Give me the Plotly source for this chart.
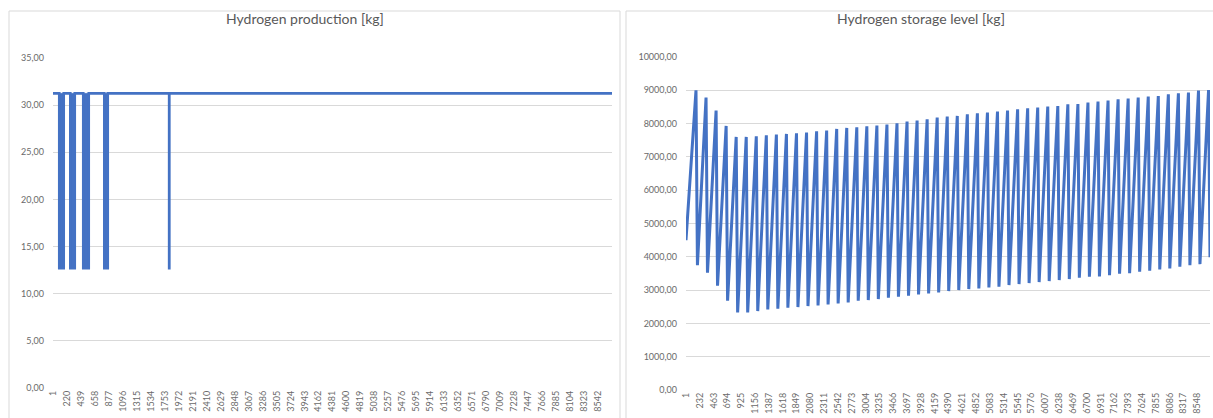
import plotly.graph_objects as go

W, H = 1213, 418

# ---------------- data ----------------
# Hydrogen production [kg] (hourly, 8760 h): constant full level with reduced-output periods
prod_full = 31.25
prod_low = 12.7
low_start = [99, 272, 475, 805, 1821]
low_end = [169, 342, 561, 859, 1824]
n_hours = 8760

prod_tick_vals = [1, 220, 439, 658, 877, 1096, 1315, 1534, 1753, 1972, 2191, 2410, 2629, 2848,
                  3067, 3286, 3505, 3724, 3943, 4162, 4381, 4600, 4819, 5038, 5257, 5476, 5695,
                  5914, 6133, 6352, 6571, 6790, 7009, 7228, 7447, 7666, 7885, 8104, 8323, 8542]
prod_y_ticks = [0, 5, 10, 15, 20, 25, 30, 35]
prod_y_text = ["0,00", "5,00", "10,00", "15,00", "20,00", "25,00", "30,00", "35,00"]

# Hydrogen storage level [kg]: weekly saw-tooth (start, peaks, troughs, end)
store_start_hour = 1
store_start_val = 4500
peak_hours = [168, 336, 504, 672, 840, 1008, 1176, 1344, 1512, 1680, 1848, 2016, 2184, 2352,
              2520, 2688, 2856, 3024, 3192, 3360, 3528, 3696, 3864, 4032, 4200, 4368, 4536,
              4704, 4872, 5040, 5208, 5376, 5544, 5712, 5880, 6048, 6216, 6384, 6552, 6720,
              6888, 7056, 7224, 7392, 7560, 7728, 7896, 8064, 8232, 8400, 8568, 8736]
peak_vals = [9000, 8780, 8390, 7930, 7600, 7600, 7620, 7650, 7670, 7690,
             7710, 7730, 7770, 7790, 7840, 7870, 7890, 7920, 7940, 7970,
             8010, 8060, 8090, 8130, 8180, 8210, 8230, 8280, 8310, 8330,
             8360, 8390, 8430, 8460, 8480, 8510, 8530, 8580, 8590, 8630,
             8660, 8690, 8730, 8750, 8780, 8810, 8830, 8880, 8910, 8930,
             8990, 9010]
trough_hours = [192, 360, 528, 696, 864, 1032, 1200, 1368, 1536, 1704, 1872, 2040, 2208, 2376,
                2544, 2712, 2880, 3048, 3216, 3384, 3552, 3720, 3888, 4056, 4224, 4392, 4560,
                4728, 4896, 5064, 5232, 5400, 5568, 5736, 5904, 6072, 6240, 6408, 6576, 6744,
                6912, 7080, 7248, 7416, 7584, 7752, 7920, 8088, 8256, 8424, 8592, 8760]
trough_vals = [3750, 3520, 3130, 2680, 2330, 2330, 2370, 2420, 2440, 2470,
               2490, 2520, 2540, 2570, 2600, 2630, 2680, 2700, 2730, 2770,
               2800, 2830, 2870, 2900, 2930, 2970, 3000, 3030, 3050, 3080,
               3100, 3150, 3180, 3210, 3240, 3270, 3300, 3330, 3370, 3400,
               3410, 3450, 3490, 3510, 3550, 3580, 3620, 3650, 3700, 3750,
               3780, 3990]

store_tick_vals = [1, 232, 463, 694, 925, 1156, 1387, 1618, 1849, 2080, 2311, 2542, 2773, 3004,
                   3235, 3466, 3697, 3928, 4159, 4390, 4621, 4852, 5083, 5314, 5545, 5776, 6007,
                   6238, 6469, 6700, 6931, 7162, 7393, 7624, 7855, 8086, 8317, 8548]
store_y_ticks = [0, 1000, 2000, 3000, 4000, 5000, 6000, 7000, 8000, 9000, 10000]
store_y_text = ["0,00", "1000,00", "2000,00", "3000,00", "4000,00", "5000,00", "6000,00",
                "7000,00", "8000,00", "9000,00", "10000,00"]

# ---------------- styling ----------------
BLUE = "#4472c4"
GRID = "#d9d9d9"
TXT = "#6a6a6a"
FONT = "Lato, 'Open Sans', sans-serif"

def px(v):
    return v / W

def py(v):
    return 1 - v / H

# production line
px_x = [1]
px_y = [prod_full]
for s, e in zip(low_start, low_end):
    px_x += [s, s, e, e]
    px_y += [prod_full, prod_low, prod_low, prod_full]
px_x.append(n_hours)
px_y.append(prod_full)

fill_x, fill_y = [], []
for s, e in zip(low_start, low_end):
    fill_x += [s, e, e, s, s, None]
    fill_y += [prod_low, prod_low, prod_full, prod_full, prod_low, None]

# storage line
st_x = [store_start_hour]
st_y = [store_start_val]
for i in range(len(peak_hours)):
    st_x += [peak_hours[i], trough_hours[i]]
    st_y += [peak_vals[i], trough_vals[i]]

fig = go.Figure()
fig.add_trace(go.Scatter(x=fill_x, y=fill_y, mode="lines", fill="toself", fillcolor=BLUE,
                         line=dict(color=BLUE, width=0.5), xaxis="x", yaxis="y",
                         hoverinfo="skip", showlegend=False))
fig.add_trace(go.Scatter(x=px_x, y=px_y, mode="lines", line=dict(color=BLUE, width=2.6),
                         xaxis="x", yaxis="y", showlegend=False))
fig.add_trace(go.Scatter(x=st_x, y=st_y, mode="lines", line=dict(color=BLUE, width=3),
                         xaxis="x2", yaxis="y2", showlegend=False))

xcommon = dict(showgrid=False, zeroline=False, showline=False, tickangle=-90, automargin=False,
               tickfont=dict(family=FONT, size=9, color=TXT), ticks="", ticklen=0)
ycommon = dict(showgrid=True, gridcolor=GRID, gridwidth=1, zeroline=False, showline=False,
               automargin=False,
               tickfont=dict(family=FONT, size=9, color=TXT), ticks="", ticklabelstandoff=8)

fig.update_layout(
    width=W, height=H,
    margin=dict(l=0, r=0, t=0, b=0, pad=0, autoexpand=False),
    paper_bgcolor="white", plot_bgcolor="white",
    xaxis=dict(domain=[px(53), px(612)], range=[1, n_hours], anchor="y",
               tickmode="array", tickvals=prod_tick_vals,
               ticktext=[str(v) for v in prod_tick_vals], **xcommon),
    yaxis=dict(domain=[py(388), py(58)], range=[0, 35], anchor="x",
               tickmode="array", tickvals=prod_y_ticks, ticktext=prod_y_text, **ycommon),
    xaxis2=dict(domain=[px(686), px(1210)], range=[1, n_hours], anchor="y2",
                tickmode="array", tickvals=store_tick_vals,
                ticktext=[str(v) for v in store_tick_vals], **xcommon),
    yaxis2=dict(domain=[py(390), py(57)], range=[0, 10000], anchor="x2",
                tickmode="array", tickvals=store_y_ticks, ticktext=store_y_text, **ycommon),
    shapes=[
        dict(type="rect", xref="paper", yref="paper", x0=px(9), x1=px(620), y0=-0.2, y1=py(11),
             line=dict(color=GRID, width=1), fillcolor="rgba(0,0,0,0)", layer="below"),
        dict(type="rect", xref="paper", yref="paper", x0=px(626), x1=px(1216), y0=-0.2, y1=py(11),
             line=dict(color=GRID, width=1), fillcolor="rgba(0,0,0,0)", layer="below"),
    ],
    annotations=[
        dict(text="Hydrogen production [kg]", xref="paper", yref="paper",
             x=px(305), y=py(19), xanchor="center", yanchor="middle", showarrow=False,
             font=dict(family=FONT, size=14, color="#595959")),
        dict(text="Hydrogen storage level [kg]", xref="paper", yref="paper",
             x=px(921), y=py(19), xanchor="center", yanchor="middle", showarrow=False,
             font=dict(family=FONT, size=14, color="#595959")),
    ],
)

fig.write_html("out.html")
